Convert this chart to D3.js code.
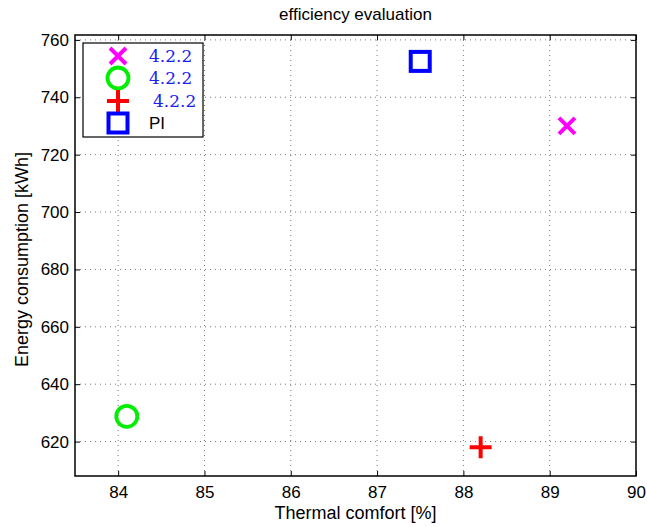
<!DOCTYPE html>
<html lang="en">
<head>
<meta charset="UTF-8">
<title>efficiency evaluation</title>
<script src="https://d3js.org/d3.v7.min.js"></script>
<style>
	body { margin: 0; background: #fff; }
	text { font-family: "Liberation Sans", Arial, sans-serif; fill: #000; }
	.grid line { stroke: #777; stroke-dasharray: 1,4; stroke-width: 1; }
	.axis path { stroke: none; }
	.axis line { stroke: #000; }
	.axis text { font-size: 17px; }
</style>
</head>
<body>
<script>
// data
var labels = ['4.2.2', '4.2.2', '4.2.2', 'PI'];
var comfort = [89.2, 84.1, 88.2, 87.5];
var energy = [730, 628.8, 618, 752.5];
var symbols = ['cross', 'circle', 'plus', 'square'];
var colors = ['#ff00ff', '#00ee00', '#ff0000', '#0000ff'];

var xTicks = [84, 85, 86, 87, 88, 89, 90];
var yTicks = [620, 640, 660, 680, 700, 720, 740, 760];

var W = 647, H = 527;
var margin = {top: 35, left: 75, right: 11, bottom: 51};
var width = W - margin.left - margin.right;
var height = H - margin.top - margin.bottom;

var svg = d3.select('body').append('svg')
	.attr('width', W)
	.attr('height', H);
var g = svg.append('g')
	.attr('transform', 'translate(' + margin.left + ',' + margin.top + ')');

var x = d3.scaleLinear().domain([83.5, 90]).range([0, width]);
var y = d3.scaleLinear().domain([608, 761.7]).range([height, 0]);

// grid
var grid = g.append('g').attr('class', 'grid');
grid.selectAll('.gx').data(xTicks.filter(function (d) { return d < 90; }))
	.enter().append('line')
	.attr('x1', function (d) { return x(d); })
	.attr('x2', function (d) { return x(d); })
	.attr('y1', 0).attr('y2', height);
grid.selectAll('.gy').data(yTicks)
	.enter().append('line')
	.attr('y1', function (d) { return y(d); })
	.attr('y2', function (d) { return y(d); })
	.attr('x1', 0).attr('x2', width);

// axes (ticks inward, on all four sides)
g.append('g').attr('class', 'axis')
	.attr('transform', 'translate(0,' + height + ')')
	.call(d3.axisBottom(x).tickValues(xTicks).tickFormat(d3.format('d')).tickSize(-5).tickPadding(10));
g.append('g').attr('class', 'axis')
	.call(d3.axisLeft(y).tickValues(yTicks).tickFormat(d3.format('d')).tickSize(-5).tickPadding(6));
g.append('g').attr('class', 'axis')
	.call(d3.axisTop(x).tickValues(xTicks).tickSize(-5).tickFormat(''));
g.append('g').attr('class', 'axis')
	.attr('transform', 'translate(' + width + ',0)')
	.call(d3.axisRight(y).tickValues(yTicks).tickSize(-5).tickFormat(''));

g.append('rect')
	.attr('width', width).attr('height', height)
	.style('fill', 'none').style('stroke', '#000').style('stroke-width', 1.5);

// markers
function marker(sel, type, color) {
	var s = 9.5;
	if (type === 'cross') {
		sel.append('path').attr('d', 'M-8,-8L8,8M-8,8L8,-8')
			.style('stroke', color).style('stroke-width', 4).style('fill', 'none');
	} else if (type === 'circle') {
		sel.append('circle').attr('r', 10.5)
			.style('stroke', color).style('stroke-width', 3.8).style('fill', 'none');
	} else if (type === 'plus') {
		sel.append('path').attr('d', 'M-11,0L11,0M0,-11L0,11')
			.style('stroke', color).style('stroke-width', 4).style('fill', 'none');
	} else {
		sel.append('rect').attr('x', -s).attr('y', -s).attr('width', 2 * s).attr('height', 2 * s)
			.style('stroke', color).style('stroke-width', 4).style('fill', 'none');
	}
}

comfort.forEach(function (c, i) {
	var p = g.append('g').attr('transform', 'translate(' + x(c) + ',' + y(energy[i]) + ')');
	marker(p, symbols[i], colors[i]);
});

// labels
svg.append('text')
	.attr('x', margin.left + width / 2).attr('y', 20)
	.style('text-anchor', 'middle').style('font-size', '17px')
	.text('efficiency evaluation');
svg.append('text')
	.attr('x', margin.left + width / 2).attr('y', 519)
	.style('text-anchor', 'middle').style('font-size', '18px')
	.text('Thermal comfort [%]');
svg.append('text')
	.attr('transform', 'translate(28,' + (margin.top + height / 2 + 4) + ') rotate(-90)')
	.style('text-anchor', 'middle').style('font-size', '18px')
	.text('Energy consumption [kWh]');

// legend
var legend = svg.append('g').attr('transform', 'translate(83,43)');
legend.append('rect')
	.attr('width', 120).attr('height', 94)
	.style('fill', '#fff').style('stroke', '#000').style('stroke-width', 1.2);
var rowsY = [13, 35, 58, 80];
labels.forEach(function (l, i) {
	var r = legend.append('g').attr('transform', 'translate(35,' + rowsY[i] + ')');
	marker(r, symbols[i], colors[i]);
	var isPI = l === 'PI';
	legend.append('text')
		.attr('x', i === 2 ? 70 : 66).attr('y', rowsY[i] + 6)
		.style('font-family', isPI ? '"Liberation Sans", Arial, sans-serif' : '"DejaVu Serif", "Liberation Serif", serif')
		.style('font-size', isPI ? '17px' : '17px')
		.style('fill', isPI ? '#000' : '#2020ee')
		.text(l);
});
</script>
</body>
</html>
